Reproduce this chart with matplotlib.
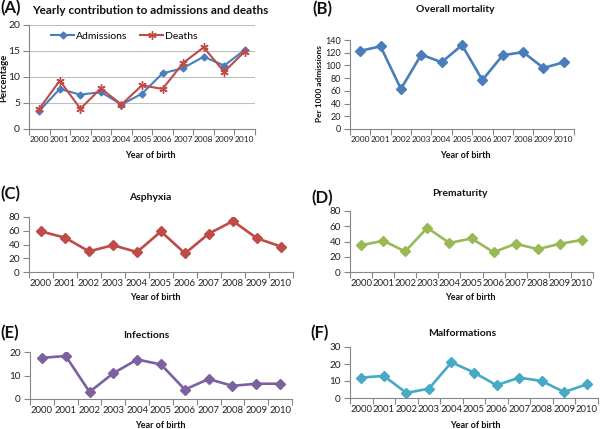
import matplotlib
matplotlib.use("Agg")
import matplotlib.pyplot as plt
import numpy as np

years = ["2000", "2001", "2002", "2003", "2004", "2005", "2006", "2007", "2008", "2009", "2010"]
admissions = [3.5, 7.7, 6.6, 7.1, 4.7, 6.8, 10.7, 11.7, 13.9, 12.2, 15.2]
deaths = [3.9, 9.3, 3.9, 7.8, 4.7, 8.4, 7.7, 12.7, 15.7, 11.0, 14.9]
overall = [123, 130, 63, 117, 105, 132, 77, 116, 121, 96, 105]
asphyxia = [59, 50, 30, 39, 29, 59, 27, 56, 74, 49, 37]
prematurity = [35, 41, 27, 58, 38, 44, 26, 37, 30, 37, 42]
infections = [17.5, 18.3, 3.0, 11.0, 16.8, 14.7, 4.0, 8.5, 5.6, 6.5, 6.5]
malformations = [12, 13, 3, 5.5, 21, 15, 7.5, 12, 10, 3.5, 8]

plt.rcParams['font.family'] = ['Lato', 'DejaVu Sans']
W, H = 600, 429
fig = plt.figure(figsize=(W / 100, H / 100), dpi=100)

AX_COL = "#868686"


def px(x, y):
    return x / W, 1 - y / H


def make_ax(l, t, r, b, ymax, ystep, grid=False, xsize=6.8, ysize=7.2):
    ax = fig.add_axes([l / W, 1 - b / H, (r - l) / W, (b - t) / H])
    n = len(years)
    x = np.arange(n)
    ax.set_xlim(-0.5, n - 0.5)
    ax.set_ylim(0, ymax)
    ax.set_xticks(x)
    ax.set_xticklabels(years)
    ax.set_xticks(np.arange(-0.5, n, 1.0), minor=True)
    ax.set_yticks(np.arange(0, ymax + 0.001, ystep))
    ax.tick_params(axis='x', which='major', length=0, labelsize=xsize, pad=5, labelcolor='#222222')
    ax.tick_params(axis='x', which='minor', length=4, color=AX_COL, width=0.8)
    ax.tick_params(axis='y', which='major', length=4, color=AX_COL, width=0.8, labelsize=ysize,
                   labelcolor='#222222', pad=2.5)
    for s in ['top', 'right']:
        ax.spines[s].set_visible(False)
    for s in ['left', 'bottom']:
        ax.spines[s].set_color(AX_COL)
        ax.spines[s].set_linewidth(0.8)
    if grid:
        ax.yaxis.grid(True, color='#BFBFBF', linewidth=0.8)
        ax.set_axisbelow(True)
    return ax, x


def label(x, y, s, size=8, weight='bold', ha='center', rot=0):
    fx, fy = px(x, y)
    fig.text(fx, fy, s, fontsize=size, fontweight=weight, ha=ha, va='center', rotation=rot, color='#111111')


MS = 5.2
LW = 1.9

# (A)
ax, x = make_ax(29, 25, 255, 129, 20, 5, grid=True, xsize=6.0, ysize=7.5)
ax.plot(x, admissions, color='#4A7EBB', lw=1.5, marker='D', ms=3.5, label='Admissions')
ax.plot(x, deaths, color='#BE4B48', lw=1.5, marker=(6, 2, 0), ms=6, mew=1, label='Deaths')
ax.legend(loc='upper left', bbox_to_anchor=(0.08, 0.98), ncol=2, frameon=False, fontsize=7.5,
          handlelength=2.2, columnspacing=1.2, handletextpad=0.2, borderaxespad=0)
label(11, 8, '(A)', size=12, ha='center')
label(150, 10, 'Yearly contribution to admissions and deaths', size=8.5)
label(4, 78, 'Percentage', size=6.8, rot=90)
label(150, 155, 'Year of birth', size=6.5)

# (B)
ax, x = make_ax(350, 40, 574, 129, 140, 20, xsize=6.0, ysize=6.5)
ax.plot(x, overall, color='#4A7EBB', lw=LW, marker='D', ms=MS)
label(322, 9, '(B)', size=12)
label(455, 10, 'Overall mortality', size=7.5)
label(319, 84, 'Per 1000 admissions', size=6.0, rot=90)
label(465, 155, 'Year of birth', size=6.5)

# (C)
ax, x = make_ax(29, 217, 293, 272, 80, 20)
ax.plot(x, asphyxia, color='#BE4B48', lw=LW, marker='D', ms=MS)
label(10, 194, '(C)', size=12)
label(150, 198, 'Asphyxia', size=7.5)
label(155, 298, 'Year of birth', size=6.5)

# (D)
ax, x = make_ax(350, 211, 593, 272, 80, 20)
ax.plot(x, prematurity, color='#98B954', lw=LW, marker='D', ms=MS)
label(322, 198, '(D)', size=12)
label(460, 193, 'Prematurity', size=7.5)
label(470, 298, 'Year of birth', size=6.5)

# (E)
ax, x = make_ax(30, 352, 292, 399, 20, 10)
ax.plot(x, infections, color='#7D60A0', lw=LW, marker='D', ms=MS)
label(10, 333, '(E)', size=12)
label(146, 335, 'Infections', size=7.5)
label(160, 425, 'Year of birth', size=6.5)

# (F)
ax, x = make_ax(350, 347, 598, 398, 30, 10)
ax.plot(x, malformations, color='#46AAC5', lw=LW, marker='D', ms=MS)
label(320, 333, '(F)', size=12)
label(462, 334, 'Malformations', size=7.5)
label(475, 425, 'Year of birth', size=6.5)

fig.savefig('out.png', dpi=100)
